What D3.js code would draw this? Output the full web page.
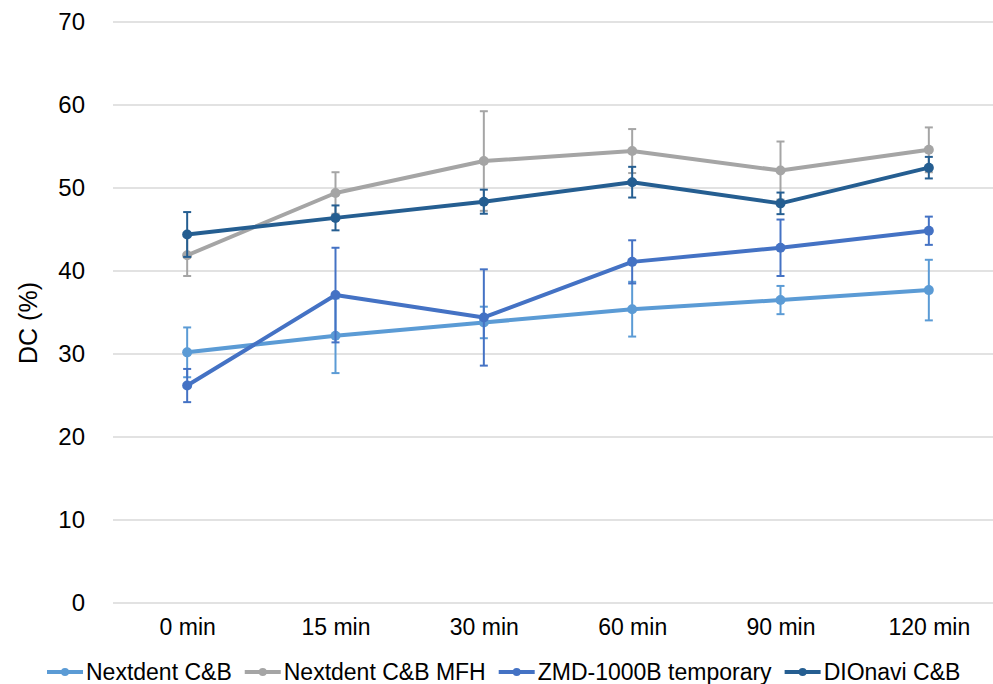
<!DOCTYPE html>
<html>
<head>
<meta charset="utf-8">
<script src="https://cdn.jsdelivr.net/npm/d3@7"></script>
<style>
  body { margin: 0; background: #fff; }
  svg { display: block; font-family: Arial, "Liberation Sans", sans-serif; }
</style>
</head>
<body>
<div id="chart"></div>
<script>
const categories = ["0 min", "15 min", "30 min", "60 min", "90 min", "120 min"];
const seriesNames = ["Nextdent C&B", "Nextdent C&B MFH", "ZMD-1000B temporary", "DIOnavi C&B"];
const nextdentMean = [30.2, 32.2, 33.8, 35.4, 36.5, 37.7];
const nextdentSd   = [3.0, 4.5, 1.9, 3.3, 1.7, 3.65];
const mfhMean = [41.9, 49.4, 53.25, 54.45, 52.1, 54.6];
const mfhSd   = [2.5, 2.5, 6.0, 2.65, 3.5, 2.7];
const zmdMean = [26.2, 37.1, 34.4, 41.1, 42.8, 44.85];
const zmdSd   = [2.0, 5.7, 5.8, 2.6, 3.4, 1.7];
const dioMean = [44.4, 46.4, 48.35, 50.7, 48.15, 52.45];
const dioSd   = [2.7, 1.5, 1.45, 1.85, 1.3, 1.3];
const yTicks = [0, 10, 20, 30, 40, 50, 60, 70];
const colors = ["#5B9BD5", "#A5A5A5", "#4472C4", "#255E91"];

const means = [nextdentMean, mfhMean, zmdMean, dioMean];
const sds = [nextdentSd, mfhSd, zmdSd, dioSd];
const series = seriesNames.map((name, i) => ({
  name, color: colors[i],
  values: categories.map((c, j) => ({ cat: c, v: means[i][j], sd: sds[i][j] }))
}));

const width = 993, height = 684;
const svg = d3.select("#chart").append("svg").attr("width", width).attr("height", height);

const x = d3.scalePoint().domain(categories).range([113, 1003]).padding(0.5);
const y = d3.scaleLinear().domain([0, 70]).range([603, 22]);

// gridlines
svg.append("g").selectAll("line").data(yTicks).enter().append("line")
  .attr("x1", 113).attr("x2", 1003)
  .attr("y1", d => y(d)).attr("y2", d => y(d))
  .attr("stroke", "#d9d9d9").attr("stroke-width", 1.5);

// y axis
const yAxis = svg.append("g").attr("transform", "translate(113,0)")
  .call(d3.axisLeft(y).tickValues(yTicks).tickSize(0).tickPadding(28));
yAxis.select(".domain").remove();
yAxis.selectAll("text").attr("font-size", 24).attr("fill", "#000")
  .style("font-family", "Arial, 'Liberation Sans', sans-serif");

// x axis labels
const xAxis = svg.append("g").attr("transform", "translate(0,603)")
  .call(d3.axisBottom(x).tickSize(0).tickPadding(16));
xAxis.select(".domain").remove();
xAxis.selectAll("text").attr("font-size", 23).attr("fill", "#000")
  .style("font-family", "Arial, 'Liberation Sans', sans-serif");

// axis title
svg.append("text").attr("transform", "translate(37,323) rotate(-90)")
  .attr("text-anchor", "middle").attr("font-size", 25).attr("fill", "#000")
  .text("DC (%)");

const line = d3.line().x(d => x(d.cat)).y(d => y(d.v));

const g = svg.selectAll(".series").data(series).enter().append("g").attr("class", "series");

g.append("path").attr("d", d => line(d.values))
  .attr("fill", "none").attr("stroke", d => d.color).attr("stroke-width", 4)
  .attr("stroke-linejoin", "round");

g.selectAll("circle").data(d => d.values.map(v => ({ ...v, color: d.color }))).enter()
  .append("circle")
  .attr("cx", d => x(d.cat)).attr("cy", d => y(d.v)).attr("r", 5)
  .attr("fill", d => d.color);

// error bars
const eb = g.selectAll(".eb").data(d => d.values.map(v => ({ ...v, color: d.color }))).enter()
  .append("g").attr("class", "eb").attr("stroke", d => d.color).attr("stroke-width", 2);
eb.append("line").attr("x1", d => x(d.cat)).attr("x2", d => x(d.cat))
  .attr("y1", d => y(d.v - d.sd)).attr("y2", d => y(d.v + d.sd));
eb.append("line").attr("x1", d => x(d.cat) - 4).attr("x2", d => x(d.cat) + 4)
  .attr("y1", d => y(d.v + d.sd)).attr("y2", d => y(d.v + d.sd));
eb.append("line").attr("x1", d => x(d.cat) - 4).attr("x2", d => x(d.cat) + 4)
  .attr("y1", d => y(d.v - d.sd)).attr("y2", d => y(d.v - d.sd));

// legend
const legend = svg.append("g").attr("transform", "translate(47,672)");
let lx = 0;
series.forEach(s => {
  const item = legend.append("g").attr("transform", `translate(${lx},0)`);
  item.append("line").attr("x1", 0).attr("x2", 36).attr("y1", 0).attr("y2", 0)
    .attr("stroke", s.color).attr("stroke-width", 4);
  item.append("circle").attr("cx", 18).attr("cy", 0).attr("r", 4).attr("fill", s.color);
  const t = item.append("text").attr("x", 39).attr("y", 8).attr("font-size", 23)
    .attr("fill", "#000").text(s.name);
  lx += 39 + t.node().getComputedTextLength() + 13;
});
</script>
</body>
</html>
